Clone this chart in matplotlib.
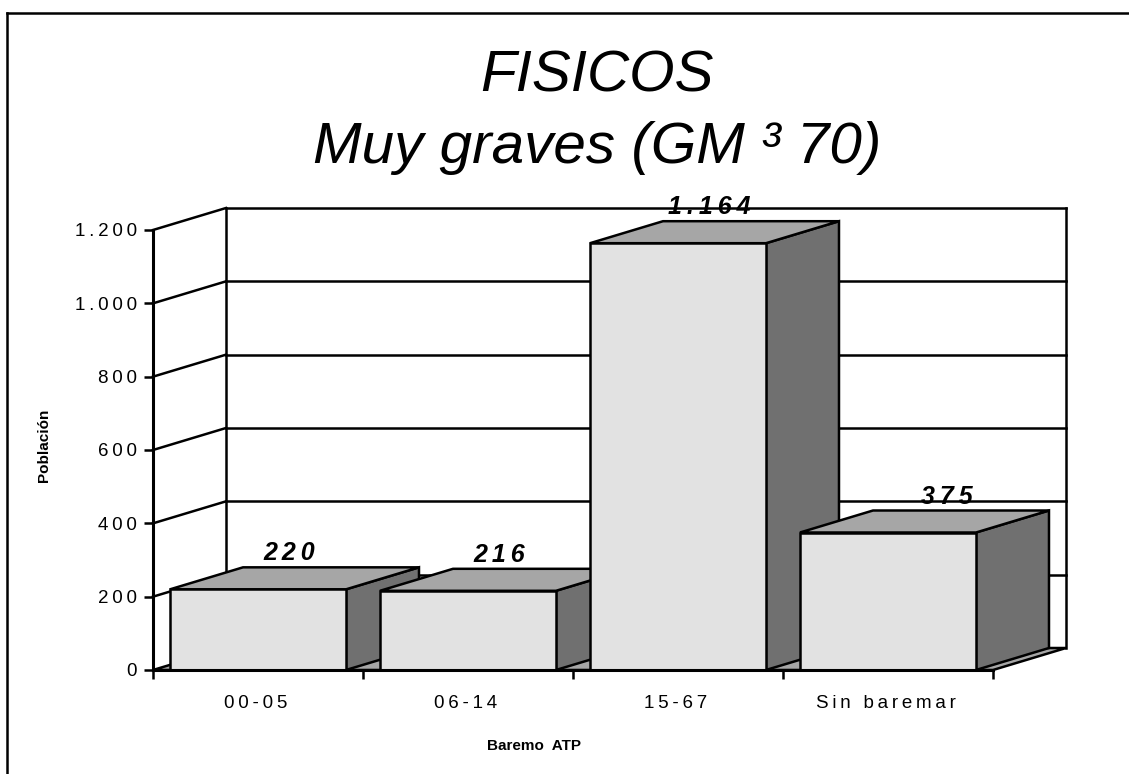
import matplotlib
matplotlib.use("Agg")
import matplotlib.pyplot as plt
from matplotlib.lines import Line2D
from matplotlib.patches import Polygon

plt.rcParams['font.family'] = ['Liberation Sans', 'DejaVu Sans']

categories = ["00-05", "06-14", "15-67", "Sin baremar"]
values = [220, 216, 1164, 375]
value_labels = ["220", "216", "1.164", "375"]
y_ticks = [0, 200, 400, 600, 800, 1000, 1200]
y_tick_labels = ["0", "200", "400", "600", "800", "1.000", "1.200"]

# depth of the fake 3D box, in data units
DEPTH_X = 73 / 210
DEPTH_Y = 60
BAR_W = 0.838
BAR_GAP = 0.081
LW = 1.8

FRONT = "#e2e2e2"
TOP = "#a6a6a6"
SIDE = "#707070"


def spaced(text, sep="\u2009"):
    """Loosen the letters a bit, the original has wide tracking."""
    return sep.join(text)


def poly(ax, pts, color, z):
    ax.add_patch(Polygon(pts, closed=True, facecolor=color, edgecolor="black",
                         linewidth=LW, joinstyle="miter", clip_on=False, zorder=z))


fig = plt.figure(figsize=(11.29, 7.74), dpi=100)
ax = fig.add_axes([153 / 1129, (774 - 670) / 774, 840 / 1129, 440 / 774])
ax.set_xlim(0, len(categories))
ax.set_ylim(0, y_ticks[-1])
ax.patch.set_visible(False)

n = len(categories)
top_y = y_ticks[-1]

# floor and walls
poly(ax, [(0, 0), (n, 0), (n + DEPTH_X, DEPTH_Y), (DEPTH_X, DEPTH_Y)], TOP, 1)
ax.plot([DEPTH_X, DEPTH_X], [DEPTH_Y, top_y + DEPTH_Y], color="black", lw=LW, clip_on=False, zorder=1.5)
ax.plot([n + DEPTH_X, n + DEPTH_X], [DEPTH_Y, top_y + DEPTH_Y], color="black", lw=LW, clip_on=False, zorder=1.5)
for t in y_ticks[1:]:
    ax.plot([0, DEPTH_X], [t, t + DEPTH_Y], color="black", lw=LW, clip_on=False, zorder=1.5)
    ax.plot([DEPTH_X, n + DEPTH_X], [t + DEPTH_Y, t + DEPTH_Y], color="black", lw=LW, clip_on=False, zorder=1.5)

# bars, left to right so each one covers the side of the previous
for i, v in enumerate(values):
    x0 = i + BAR_GAP
    x1 = x0 + BAR_W
    z = 2 + i
    poly(ax, [(x1, 0), (x1 + DEPTH_X, DEPTH_Y), (x1 + DEPTH_X, v + DEPTH_Y), (x1, v)], SIDE, z)
    poly(ax, [(x0, v), (x1, v), (x1 + DEPTH_X, v + DEPTH_Y), (x0 + DEPTH_X, v + DEPTH_Y)], TOP, z)
    poly(ax, [(x0, 0), (x1, 0), (x1, v), (x0, v)], FRONT, z)

# value labels sit over the back edge of each bar
label_shift = [0.15, 0.15, 0.15, 0.28]
for i, v in enumerate(values):
    ax.text(i + 0.5 + label_shift[i], v + DEPTH_Y + 38, spaced(value_labels[i]),
            ha="center", va="center", fontsize=18, fontweight="bold", fontstyle="italic", zorder=10)

ax.spines["top"].set_visible(False)
ax.spines["right"].set_visible(False)
for side in ("left", "bottom"):
    ax.spines[side].set_linewidth(LW + 0.4)
    ax.spines[side].set_zorder(9)

ax.set_yticks(y_ticks)
ax.set_yticklabels([spaced(s) for s in y_tick_labels], fontsize=13.5)
ax.set_xticks(range(n + 1))
ax.set_xticklabels([""] * (n + 1))
ax.tick_params(axis="both", length=6.5, width=LW, direction="out")
ax.tick_params(axis="y", pad=5)

for i, c in enumerate(categories):
    ax.annotate(spaced(c), (i + 0.5, 0), xytext=(-2, -33), textcoords="offset pixels",
                ha="center", va="center", fontsize=13.5)

fig.text(44 / 1129, 1 - 445 / 774, "Población", rotation=90, ha="center", va="center",
         fontsize=11, fontweight="bold")
fig.text(534 / 1129, 1 - 746 / 774, "Baremo  ATP", ha="center", va="center",
         fontsize=11, fontweight="bold")

fig.text(597 / 1129, 1 - 91 / 774, "FISICOS", ha="center", va="baseline",
         fontsize=42, fontstyle="italic")
fig.text(597 / 1129, 1 - 163 / 774, "Muy graves (GM ³ 70)", ha="center", va="baseline",
         fontsize=42, fontstyle="italic")

# outer frame, only top and left show in the original
fig.add_artist(Line2D([7 / 1129, 7 / 1129], [0, 1 - 13 / 774], color="black", lw=LW))
fig.add_artist(Line2D([7 / 1129, 1], [1 - 13 / 774, 1 - 13 / 774], color="black", lw=LW))

fig.savefig("out.png", dpi=100)
